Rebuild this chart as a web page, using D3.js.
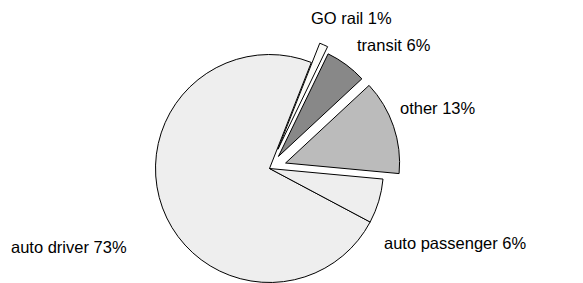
<!DOCTYPE html>
<html>
<head>
<meta charset="utf-8">
<script src="https://cdn.jsdelivr.net/npm/d3@7"></script>
<style>
  body { margin: 0; background: #fff; }
  text { font-family: "Liberation Sans", Arial, sans-serif; font-size: 16.5px; fill: #000; }
</style>
</head>
<body>
<div id="chart-area"></div>
<script>
// data, clockwise order starting from auto driver
var modes = ["auto driver", "GO rail", "transit", "other", "auto passenger"];
var shares = [73.2, 1.2, 5.9, 13.4, 6.3];

var total_width = 583;
var total_height = 283;

var svg = d3.select('#chart-area').append('svg')
            .attr("width", total_width)
            .attr("height", total_height);

var cx = 269.5, cy = 168.5;
var radius = 114;

// how far each slice is pulled out
var explode = {"auto driver": 0, "GO rail": 21, "transit": 15, "other": 17, "auto passenger": 0};
var fills = {"auto driver": "#eeeeee", "GO rail": "#fbfbf8", "transit": "#888888",
             "other": "#bbbbbb", "auto passenger": "#eeeeee"};
// label anchors (left/baseline)
var labelPos = {"auto driver": [11, 253], "GO rail": [311, 24], "transit": [357, 51],
                "other": [400, 114], "auto passenger": [384, 249]};

var startDeg = 118;
var pie = d3.pie()
            .sort(null)
            .value(function(d){ return d.value; })
            .startAngle(startDeg * Math.PI / 180)
            .endAngle((startDeg + 360) * Math.PI / 180);

var data = modes.map(function(m, i){ return {mode: m, value: shares[i]}; });
var arcs = pie(data);

var arc = d3.arc().innerRadius(0).outerRadius(radius);

var g = svg.append('g')
           .attr("transform", "translate(" + cx + "," + cy + ")");

g.selectAll("path.slice")
 .data(arcs)
 .enter()
 .append("path")
 .attr("class", "slice")
 .attr("d", arc)
 .attr("transform", function(d){
    var mid = (d.startAngle + d.endAngle) / 2;
    var off = explode[d.data.mode];
    return "translate(" + (off * Math.sin(mid)) + "," + (-off * Math.cos(mid)) + ")";
 })
 .style("fill", function(d){ return fills[d.data.mode]; })
 .style("stroke", "#000")
 .style("stroke-width", 1)
 .style("stroke-linejoin", "miter");

var sum = d3.sum(shares);
svg.selectAll("text.label")
   .data(arcs)
   .enter()
   .append("text")
   .attr("class", "label")
   .attr("x", function(d){ return labelPos[d.data.mode][0]; })
   .attr("y", function(d){ return labelPos[d.data.mode][1]; })
   .text(function(d){ return d.data.mode + " " + Math.round(d.data.value / sum * 100) + "%"; });
</script>
</body>
</html>
